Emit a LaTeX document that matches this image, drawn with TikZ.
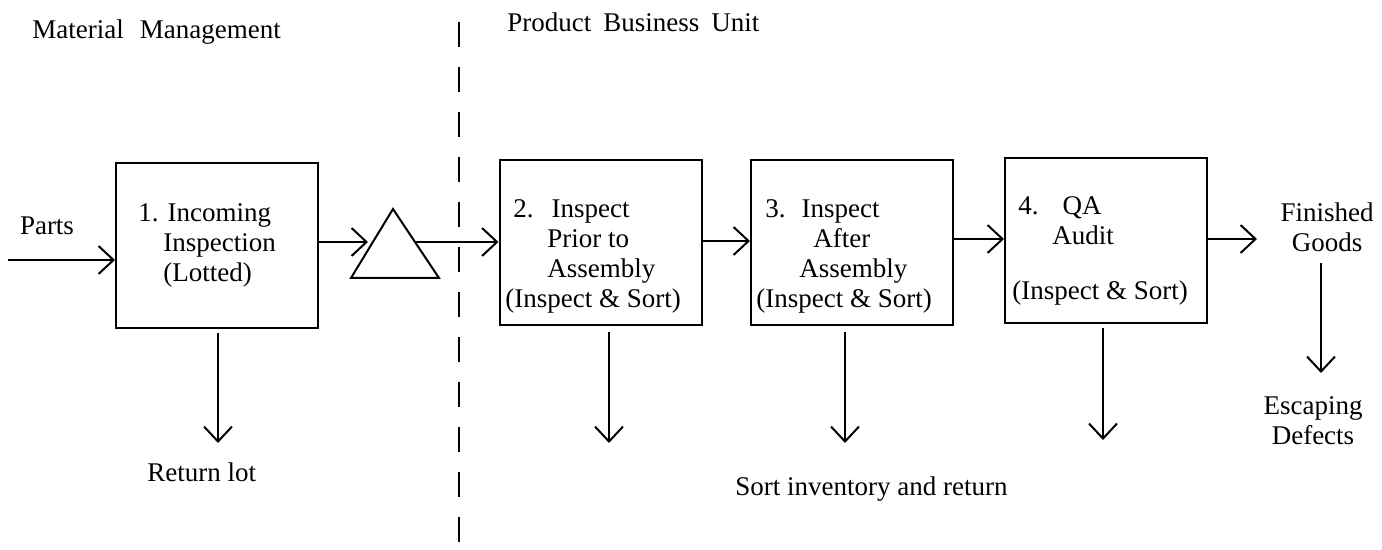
\documentclass[tikz,border=0pt]{standalone}
\usepackage{fontspec}
\setmainfont{Liberation Serif}
\usetikzlibrary{arrows.meta}
\tikzset{
  box/.style={draw, line width=1pt, minimum width=101pt, minimum height=82.5pt, inner sep=0pt},
  arr/.style={line width=1pt, -{Straight Barb[length=7.5pt,width=14pt,line width=1pt]}},
  lbl/.style={inner sep=0pt, font=\fontsize{13.5}{15}\selectfont},
  divider/.style={line width=1pt, dash pattern=on 12.5pt off 10pt}
}
\begin{document}
\begin{tikzpicture}[x=0.5pt,y=-0.5pt]
\useasboundingbox (0,0) rectangle (1382,550);
% divider
\coordinate (dtop) at (459,22);
\coordinate (dbot) at (459,550);
\draw[divider] (dtop) -- (dbot);
% headings
\node[lbl, anchor=base west] (mm) at (32,39) {Material\hspace{8pt}Management};
\node[lbl, anchor=base west] (pbu) at (507,32) {Product\hspace{6pt}Business\hspace{6pt}Unit};
% boxes
\node[box] (b1) at (217,245.5) {};
\node[box] (b2) at (600.5,243) {};
\node[box] (b3) at (852,243) {};
\node[box] (b4) at (1106,240.5) {};
% box labels (base anchor = baseline of last line)
\node[lbl, anchor=base west, align=left] (t1) at (138,282)
  {1. Incoming\\\hspace*{12.5pt}Inspection\\\hspace*{12.5pt}(Lotted)};
\node[lbl, anchor=base west, align=left] (t2) at (505,308)
  {\hspace*{4pt}2.\hspace{9pt}Inspect\\\hspace*{21pt}Prior to\\\hspace*{21pt}Assembly\\(Inspect \& Sort)};
\node[lbl, anchor=base west, align=left] (t3) at (756,308)
  {\hspace*{4.5pt}3.\hspace{8pt}Inspect\\\hspace*{28.5pt}After\\\hspace*{21.5pt}Assembly\\(Inspect \& Sort)};
\node[lbl, anchor=base west, align=left] (t4) at (1012,300)
  {\hspace*{3pt}4.\hspace{12pt}QA\\\hspace*{20pt}Audit\\[12.5pt](Inspect \& Sort)};
% other labels
\node[lbl, anchor=base] (parts) at (47,235) {Parts};
\node[lbl, anchor=base, align=center] (fg) at (1327,252) {Finished\\Goods};
\node[lbl, anchor=base, align=center] (ed) at (1313,445) {Escaping\\Defects};
\node[lbl, anchor=base west] (rl) at (147,482) {Return lot};
\node[lbl, anchor=base west] (sir) at (735,495) {Sort inventory and return};
% triangle (inventory)
\coordinate (ta) at (393,209);
\coordinate (tb) at (351,278);
\coordinate (tc) at (439,278);
\draw[line width=1pt, line join=miter] (ta) -- (tb) -- (tc) -- cycle;
\coordinate (tin) at (368,242);
\coordinate (tout) at (415,242);
% horizontal flow
\coordinate (p0) at (8,260);
\draw[arr] (p0) -- (b1.west |- p0);
\draw[arr] (b1.east |- tin) -- (tin);
\draw[arr] (tout) -- (b2.west |- tout);
\coordinate (h23) at (0,241);
\draw[arr] (b2.east |- h23) -- (b3.west |- h23);
\coordinate (h34) at (0,239);
\draw[arr] (b3.east |- h34) -- (b4.west |- h34);
\coordinate (fgin) at (1257,239);
\draw[arr] (b4.east |- fgin) -- (fgin);
% downward flows
\coordinate (d1) at (218,443);
\coordinate (d2) at (609,443);
\coordinate (d3) at (845,443);
\coordinate (d4) at (1103,440);
\coordinate (fgs) at (1321,263);
\coordinate (d5) at (1321,373);
\draw[arr, shorten <=2pt] (d1 |- b1.south) -- (d1);
\draw[arr, shorten <=3pt] (d2 |- b2.south) -- (d2);
\draw[arr, shorten <=3pt] (d3 |- b3.south) -- (d3);
\draw[arr, shorten <=2pt] (d4 |- b4.south) -- (d4);
\draw[arr] (fgs) -- (d5);
\end{tikzpicture}
\end{document}
